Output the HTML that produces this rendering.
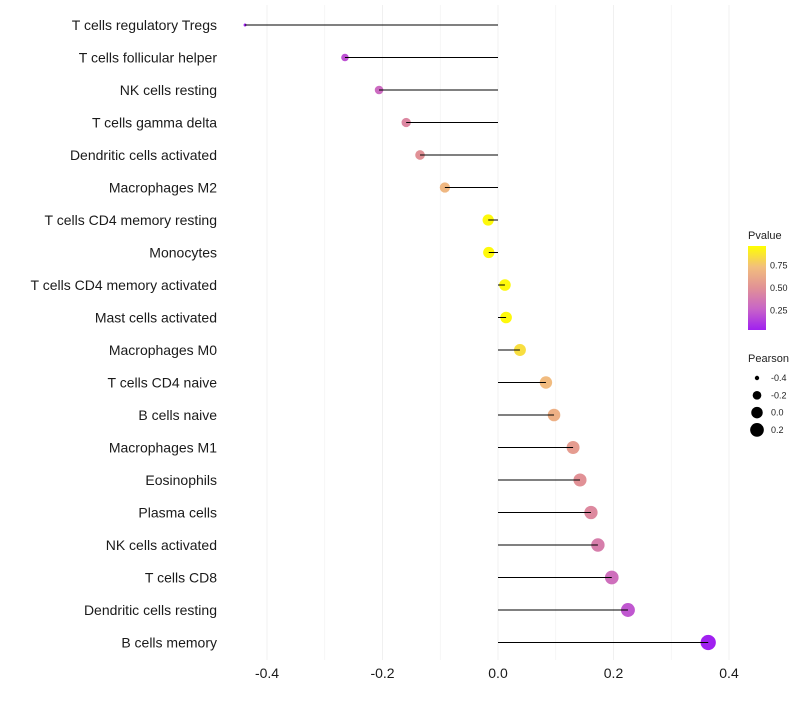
<!DOCTYPE html>
<html><head><meta charset="utf-8"><style>
body{margin:0;background:#fff;font-family:"Liberation Sans",sans-serif}
</style></head><body>
<svg id="c" width="800" height="700" xmlns="http://www.w3.org/2000/svg"></svg>
<script>
const categories=["T cells regulatory  Tregs","T cells follicular helper","NK cells resting","T cells gamma delta","Dendritic cells activated","Macrophages M2","T cells CD4 memory resting","Monocytes","T cells CD4 memory activated","Mast cells activated","Macrophages M0","T cells CD4 naive","B cells naive","Macrophages M1","Eosinophils","Plasma cells","NK cells activated","T cells CD8","Dendritic cells resting","B cells memory"];
const pearson=[-0.438,-0.265,-0.206,-0.159,-0.135,-0.092,-0.017,-0.016,0.012,0.014,0.038,0.083,0.097,0.130,0.142,0.161,0.173,0.197,0.225,0.364];
const pvalues=[0.02,0.2,0.3,0.45,0.5,0.7,0.95,0.95,0.95,0.95,0.85,0.72,0.66,0.56,0.5,0.46,0.4,0.32,0.22,0.03];
const xTicks=[-0.4,-0.2,0.0,0.2,0.4];
const pTicks=[0.25,0.50,0.75];
const sizeTicks=[-0.4,-0.2,0.0,0.2];
const svg=document.getElementById('c');
const NS="http://www.w3.org/2000/svg";
function mk(t,a,p){const e=document.createElementNS(NS,t);for(const k in a)e.setAttribute(k,a[k]);(p||svg).appendChild(e);return e;}
const x=v=>498+v*577.5;
const y=i=>25+i*32.5;
function lerp(a,b,t){return a.map((v,i)=>Math.round(v+(b[i]-v)*t));}
const stops=[[160,32,240],[200,100,200],[225,145,150],[242,190,125],[255,255,0]];
function col(p){let t=Math.max(0,Math.min(1,(p-0.03)/0.94))*4;let k=Math.min(3,Math.floor(t));return `rgb(${lerp(stops[k],stops[k+1],t-k)})`;}
const r=v=>Math.sqrt(2+(v+0.44)*70);
for(let g=-0.4;g<=0.41;g+=0.1){const l=mk('line',{x1:x(g),x2:x(g),y1:5,y2:660,stroke:'#f0f0f0','stroke-width':Math.abs(Math.round(g*10))%2==0?1:0.6});}
xTicks.forEach(t=>{const e=mk('text',{x:x(t),y:678,'text-anchor':'middle','font-size':14,fill:'#1a1a1a'});e.textContent=t.toFixed(1);});
categories.forEach((c,i)=>{
const t=mk('text',{x:217,y:y(i)+5,'text-anchor':'end','font-size':14,fill:'#1a1a1a'});t.textContent=c;

const d=mk('circle',{cx:x(pearson[i]),cy:y(i),r:r(pearson[i]),fill:col(pvalues[i])});

const l=mk('line',{x1:x(0),x2:x(pearson[i]),y1:y(i),y2:y(i),stroke:'#000','stroke-width':1});

});
const lt=mk('text',{x:748,y:239,'font-size':11,fill:'#222'});lt.textContent='Pvalue';
const defs=mk('defs',{});const gr=mk('linearGradient',{id:'gr',x1:0,y1:1,x2:0,y2:0},defs);
[0,0.25,0.5,0.75,1].forEach(o=>mk('stop',{offset:o,'stop-color':col(0.03+o*0.94)},gr));
const cb=mk('rect',{x:748,y:246,width:18,height:84,fill:'url(#gr)'});
const py=p=>330-(p-0.03)/0.94*84;
pTicks.forEach(p=>{const e=mk('text',{x:770,y:py(p)+3,'font-size':9,fill:'#222'});e.textContent=p.toFixed(2);});
const st=mk('text',{x:748,y:362,'font-size':11,fill:'#222'});st.textContent='Pearson';
sizeTicks.forEach((s,i)=>{const cy=378+i*17.3;const c=mk('circle',{cx:757,cy:cy,r:r(s),fill:'#000'});
const e=mk('text',{x:771,y:cy+3,'font-size':9,fill:'#222'});e.textContent=s.toFixed(1);});
</script>
</body></html>
